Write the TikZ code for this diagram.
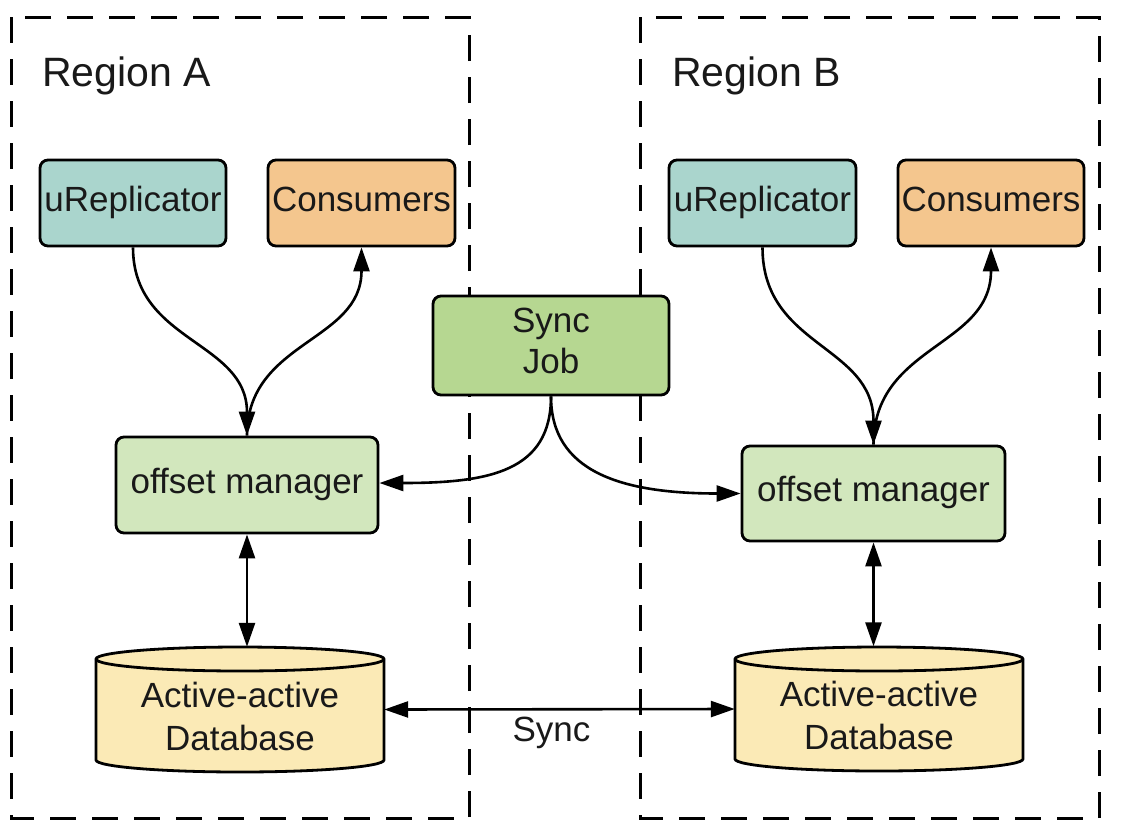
\documentclass[tikz,border=0pt]{standalone}
\usepackage{fontspec}
\setmainfont{Liberation Sans}
\usetikzlibrary{arrows.meta,calc}
\definecolor{urep}{RGB}{170,213,205}
\definecolor{cons}{RGB}{244,198,142}
\definecolor{syncc}{RGB}{182,215,145}
\definecolor{offc}{RGB}{210,231,189}
\definecolor{dbc}{RGB}{251,234,182}
\newcommand\dbcyl[4]{% L R T B
  \pgfmathsetmacro\cL{#1}\pgfmathsetmacro\cR{#2}%
  \pgfmathsetmacro\cX{(#1+#2)/2}\pgfmathsetmacro\cK{0.552*(#2-#1)/2}%
  \pgfmathsetmacro\tT{#3}\pgfmathsetmacro\tB{#4}%
  \pgfmathsetmacro\tC{#3+12}\pgfmathsetmacro\bC{#4-12}%
  \pgfmathsetmacro\tU{#3+12-6.6}\pgfmathsetmacro\tD{#3+12+6.6}\pgfmathsetmacro\tF{#3+24}%
  \pgfmathsetmacro\bD{#4-12+6.6}%
  \draw[dbline,fill=dbc] (\cL,\tC) -- (\cL,\bC) .. controls (\cL,\bD) and (\cX-\cK,\tB) .. (\cX,\tB)
     .. controls (\cX+\cK,\tB) and (\cR,\bD) .. (\cR,\bC) -- (\cR,\tC)
     .. controls (\cR,\tU) and (\cX+\cK,\tT) .. (\cX,\tT)
     .. controls (\cX-\cK,\tT) and (\cL,\tU) .. (\cL,\tC) -- cycle;
  \draw[dbline] (\cL,\tC) .. controls (\cL,\tD) and (\cX-\cK,\tF) .. (\cX,\tF)
     .. controls (\cX+\cK,\tF) and (\cR,\tD) .. (\cR,\tC);
}
\begin{document}
\begin{tikzpicture}[x=1pt,y=-1pt,
  box/.style={draw=black,line width=2.8pt,rounded corners=8pt,inner sep=0pt,align=center,
    font=\fontsize{35}{41}\selectfont,text=black!90},
  one/.style={box,text height=25pt,text depth=9pt},
  dbline/.style={draw=black,line width=2.8pt},
  dbtext/.style={inner sep=0pt,align=center,font=\fontsize{35}{43}\selectfont,text=black!90,
    minimum width=288pt,minimum height=125pt},
  region/.style={draw=black,line width=3pt,dash pattern=on 26pt off 16pt},
  regionlbl/.style={anchor=base west,inner sep=0pt,font=\fontsize{41}{41}\selectfont,text=black!90},
  arr/.style={line width=2.6pt,-{Triangle[length=24pt,width=16pt]}},
  darr/.style={line width=2.6pt,{Triangle[length=24pt,width=16pt]}-{Triangle[length=24pt,width=16pt]}},
]
\useasboundingbox (0,0) rectangle (1122,836);
\fill[white] (0,0) rectangle (1122,836);

% regions
\draw[region] (11,17) rectangle (469,818);
\draw[region] (640,17) rectangle (1099,818);
\node[regionlbl] (rA) at (42,86) {Region A};
\node[regionlbl] (rB) at (672,86) {Region B};

% nodes
\node[one,fill=urep,minimum width=186pt,minimum height=86pt] (uRA) at (133,203) {uReplicator};
\node[one,fill=cons,minimum width=187pt,minimum height=86pt] (conA) at (361.5,203) {Consumers};
\node[one,fill=urep,minimum width=187pt,minimum height=86pt] (uRB) at (762.5,203) {uReplicator};
\node[one,fill=cons,minimum width=186pt,minimum height=86pt] (conB) at (991,203) {Consumers};
\node[box,fill=syncc,minimum width=236pt,minimum height=99pt] (sync) at (551,345.5) {Sync\\Job\rule[-10pt]{0pt}{10pt}};
\node[one,fill=offc,minimum width=262pt,minimum height=96pt] (omA) at (247,485) {offset manager};
\node[one,fill=offc,minimum width=263pt,minimum height=95pt] (omB) at (873.5,493.5) {offset manager};

% databases
\dbcyl{96}{384}{647}{772}
\dbcyl{735}{1023}{647}{771}
\node[dbtext] (dbA) at (240,709.5) {\rule{0pt}{39pt}Active-active\\Database};
\node[dbtext] (dbB) at (879,709) {\rule{0pt}{39pt}Active-active\\Database};

% connectors
\draw[arr] (uRA.south) .. controls +(0,95) and +(0,-95) .. (omA.north);
\draw[arr] (omA.north) .. controls +(0,-95) and +(0,95) .. (conA.south);
\draw[arr] (uRB.south) .. controls +(0,100) and +(0,-100) .. (omB.north);
\draw[arr] (omB.north) .. controls +(0,-100) and +(0,100) .. (conB.south);
\draw[arr] (sync.south) .. controls +(0,75) and +(110,0) .. ($(omA.east)+(0,-2)$);
\draw[arr] (sync.south) .. controls +(0,75) and +(-120,0) .. (omB.west);
\draw[darr] (omA.south) -- (omA.south |- dbA.north);
\draw[darr] (omB.south) -- (omB.south |- dbB.north);
\draw[darr] (dbA.east) -- node[below=7pt,xshift=-8pt,inner sep=0pt,font=\fontsize{35}{41}\selectfont,text=black!90] (synclbl) {Sync} (dbB.west);
\end{tikzpicture}
\end{document}
